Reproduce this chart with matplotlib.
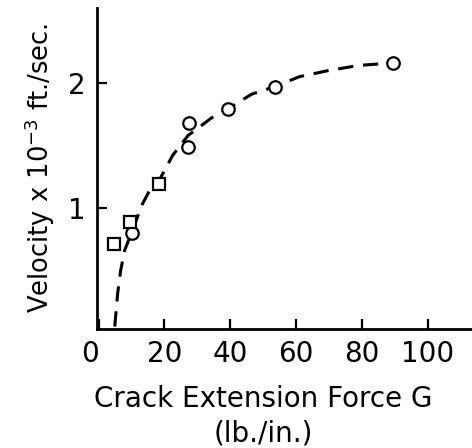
import matplotlib
matplotlib.use("Agg")
import matplotlib.pyplot as plt

plt.rcParams['font.family'] = ['DejaVu Sans']
plt.rcParams['mathtext.fontset'] = 'custom'
plt.rcParams['mathtext.rm'] = 'DejaVu Sans'
plt.rcParams['mathtext.default'] = 'regular'

# measured points (G in lb./in., velocity in 1e-3 ft./sec.)
circle_g = [10.0, 27.4, 27.1, 39.2, 53.5, 89.4]
circle_v = [0.80, 1.68, 1.49, 1.79, 1.97, 2.16]
square_g = [4.6, 9.4, 18.2]
square_v = [0.71, 0.89, 1.19]

# hand-drawn trend curve
curve_g = [4.9, 5.8, 6.7, 7.9, 10.0, 13.1, 15.5, 18.2, 22.5, 27.2,
           29.8, 34.3, 39.2, 46.5, 53.5, 61.0, 70.0, 79.0, 89.4]
curve_v = [0.05, 0.32, 0.50, 0.66, 0.80, 1.02, 1.14, 1.21, 1.42, 1.58,
           1.63, 1.72, 1.79, 1.91, 1.97, 2.05, 2.10, 2.14, 2.16]

x_ticks = [0, 20, 40, 60, 80, 100]
y_ticks = [1, 2]

fig = plt.figure(figsize=(4.72, 4.48), dpi=100)
ax = fig.add_axes([97 / 472, 1 - 329 / 448, 375 / 472, 321 / 448])

ax.plot(curve_g, curve_v, color='black', lw=2.2, dashes=(5.0, 3.2),
        solid_capstyle='butt', dash_capstyle='butt', zorder=2)
ax.plot(circle_g, circle_v, 'o', ms=9, mfc='white', mec='black', mew=1.6, zorder=3)
ax.plot(square_g, square_v, 's', ms=8.5, mfc='white', mec='black', mew=1.6, zorder=3)

ax.set_xlim(-0.5, 113.5)
ax.set_ylim(0.03, 2.6)
ax.set_xticks(x_ticks)
ax.set_yticks(y_ticks)
ax.tick_params(direction='in', length=7, width=1.6, labelsize=20, pad=8)
ax.get_xticklabels()[0].set_ha('right')

for side in ['top', 'right']:
    ax.spines[side].set_visible(False)
for side in ['left', 'bottom']:
    ax.spines[side].set_linewidth(2)

ax.set_xlabel("Crack Extension Force G\n(lb./in.)", fontsize=20, linespacing=1.3)
ax.xaxis.set_label_coords((263 - 97) / 375, -(416 - 329) / 321)
ax.xaxis.label.set_va('center')

ax.set_ylabel(r'Velocity x 10$^{-3}$ ft./sec.', fontsize=18.5, va='center')
ax.yaxis.set_label_coords(-(97 - 40) / 375, 0.5)

fig.savefig("out.png", dpi=100)
